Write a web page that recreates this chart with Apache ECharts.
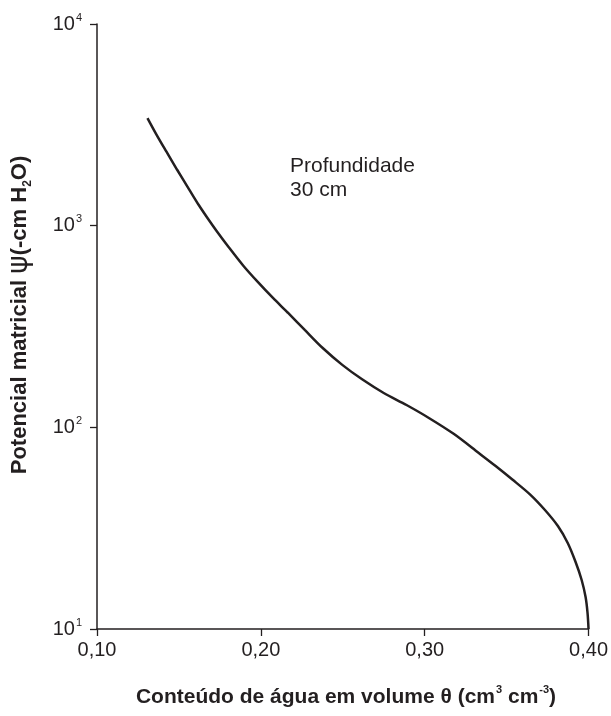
<!DOCTYPE html>
<html>
<head>
<meta charset="utf-8">
<script src="https://cdn.jsdelivr.net/npm/echarts@6/dist/echarts.min.js"></script>
<style>
  html, body { margin: 0; padding: 0; background: #fff; }
  #chart { width: 611px; height: 716px; }
</style>
</head>
<body>
<div id="chart"></div>
<script>
// conteúdo de água (cm3 cm-3) x potencial matricial (-cm H2O), profundidade 30 cm
var thetaValues = [0.1308, 0.1362, 0.1423, 0.1489, 0.1561, 0.1622, 0.1670, 0.1730, 0.1803, 0.1893,
                   0.1984, 0.2074, 0.2165, 0.2268, 0.2376, 0.2497, 0.2618, 0.2750, 0.2889, 0.3028,
                   0.3179, 0.3330, 0.3433, 0.3535, 0.3644, 0.3734, 0.3813, 0.3873, 0.3921, 0.3958,
                   0.3982, 0.3994, 0.4000];
var psiValues = [3417, 2839, 2333, 1893, 1519, 1262, 1104, 941, 784, 633,
                 523, 438, 370, 304, 248, 204, 173, 148, 129, 111,
                 92.6, 74.6, 64.3, 55.1, 46.4, 38.9, 32.4, 26.7, 21.5, 17.5,
                 14.4, 12.0, 10];
var xTicks = [0.10, 0.20, 0.30, 0.40];
var yExponents = [1, 2, 3, 4];

var ink = '#231f20';
var font = 'Liberation Sans, Arial, sans-serif';
var curveData = [];
for (var i = 0; i < thetaValues.length; i++) {
  curveData.push([thetaValues[i], psiValues[i]]);
}

var myChart = echarts.init(document.getElementById('chart'));
var option = {
  animation: false,
  textStyle: { fontFamily: font, color: ink },
  grid: { left: 97, right: 17, top: 24, bottom: 87 },
  xAxis: {
    type: 'value',
    min: xTicks[0],
    max: xTicks[xTicks.length - 1],
    interval: 0.1,
    axisLine: { lineStyle: { color: ink, width: 1.5 } },
    axisTick: { show: true, length: 7, inside: false, lineStyle: { color: ink, width: 1.3 } },
    splitLine: { show: false },
    axisLabel: {
      margin: 11,
      fontSize: 20,
      color: ink,
      formatter: function(v) { return v.toFixed(2).replace('.', ','); }
    }
  },
  yAxis: {
    type: 'log',
    logBase: 10,
    min: Math.pow(10, yExponents[0]),
    max: Math.pow(10, yExponents[yExponents.length - 1]),
    axisLine: { show: true, lineStyle: { color: ink, width: 1.5 } },
    axisTick: { show: true, length: 7, inside: false, lineStyle: { color: ink, width: 1.3 } },
    minorTick: { show: false },
    splitLine: { show: false },
    axisLabel: {
      margin: 15,
      color: ink,
      formatter: function(v) {
        var e = Math.round(Math.log10(v));
        return '{b|10}{s|' + e + '}';
      },
      rich: {
        b: { fontSize: 20, color: ink, lineHeight: 24 },
        s: { fontSize: 11, color: ink, verticalAlign: 'top', lineHeight: 24, padding: [0, 0, 12, 1] }
      }
    }
  },
  graphic: [
    {
      type: 'text',
      left: 290,
      top: 154,
      style: {
        text: 'Profundidade\n30 cm',
        fontSize: 21,
        lineHeight: 24,
        fill: ink,
        fontFamily: font
      }
    },
    {
      type: 'text',
      x: 20,
      y: 315,
      rotation: Math.PI / 2,
      style: {
        text: '{t|Potencial matricial }{p|ψ}{t|(-cm H}{sub|2}{t|O)}',
        align: 'center',
        verticalAlign: 'middle',
        rich: {
          t: { fontSize: 22, fontWeight: 'bold', fill: ink, fontFamily: font, lineHeight: 28 },
          p: { fontSize: 28, fill: ink, fontFamily: 'DejaVu Sans, sans-serif', lineHeight: 28 },
          sub: { fontSize: 12, fontWeight: 'bold', fill: ink, fontFamily: font, verticalAlign: 'bottom', lineHeight: 28, padding: [9, 0, 0, 0] }
        }
      }
    },
    {
      type: 'text',
      x: 346,
      y: 697,
      style: {
        text: '{t|Conteúdo de água em volume θ (cm}{s|3}{t| cm}{s|-3}{t|)}',
        align: 'center',
        verticalAlign: 'middle',
        rich: {
          t: { fontSize: 21, fontWeight: 'bold', fill: ink, fontFamily: font, lineHeight: 26 },
          s: { fontSize: 11, fontWeight: 'bold', fill: ink, fontFamily: font, verticalAlign: 'top', lineHeight: 26, padding: [0, 0, 12, 1] }
        }
      }
    }
  ],
  series: [{
    name: 'Profundidade 30 cm',
    type: 'line',
    data: curveData,
    smooth: 0.3,
    showSymbol: false,
    symbol: 'none',
    lineStyle: { color: ink, width: 2.5 }
  }]
};
myChart.setOption(option);
</script>
</body>
</html>
